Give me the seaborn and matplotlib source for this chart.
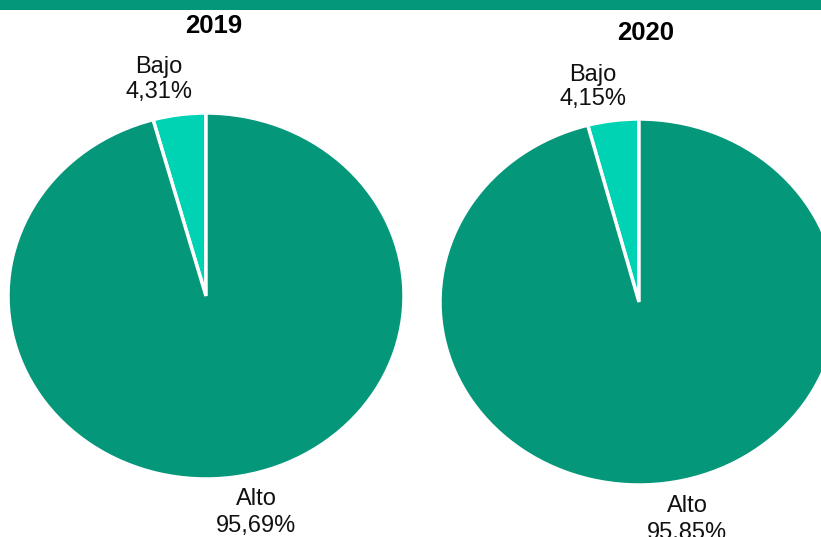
import matplotlib
matplotlib.use("Agg")
import matplotlib.pyplot as plt
import seaborn as sns

sns.set_theme(style="white")
plt.rcParams["font.family"] = ["Liberation Sans", "DejaVu Sans"]

# Data
years = ["2019", "2020"]
categories = ["Bajo", "Alto"]
shares_2019 = [4.31, 95.69]
shares_2020 = [4.15, 95.85]
colors = ["#00D3B4", "#049779"]

W, H = 821, 537
fig = plt.figure(figsize=(W / 100, H / 100), dpi=100)

# green banner at the top
fig.patches.append(plt.Rectangle((0, 1 - 10 / H), 1, 10 / H, transform=fig.transFigure,
                                 facecolor="#049779", edgecolor="none"))


def px_axes(cx, cy, rx, ry):
    return fig.add_axes([(cx - rx) / W, (H - cy - ry) / H, 2 * rx / W, 2 * ry / H])


def fmt(v):
    return f"{v:.2f}".replace(".", ",") + "%"


def put(x, y, s, **kw):
    fig.text(x / W, 1 - y / H, s, ha="center", va="baseline", **kw)


panels = [
    dict(year=years[0], vals=shares_2019, c=(206, 296), r=(198, 183),
         title=(214, 33), bajo=(159, 73, 98), alto=(256, 505, 532)),
    dict(year=years[1], vals=shares_2020, c=(639, 302), r=(199, 183),
         title=(646, 40), bajo=(593, 81, 105), alto=(687, 512, 539)),
]

LABEL_FS = 17
for p in panels:
    ax = px_axes(*p["c"], *p["r"])
    ax.pie(p["vals"], colors=colors, startangle=90, counterclock=True,
           wedgeprops=dict(edgecolor="white", linewidth=2.5))
    ax.set_aspect("auto")
    ax.set_xlim(-1, 1)
    ax.set_ylim(-1, 1)
    ax.axis("off")

    put(p["title"][0], p["title"][1], p["year"], fontsize=18.5,
        fontweight="bold", color="black")
    bx, by1, by2 = p["bajo"]
    put(bx, by1, categories[0], fontsize=LABEL_FS, color="#111111")
    put(bx, by2, fmt(p["vals"][0]), fontsize=LABEL_FS, color="#111111")
    ax_, ay1, ay2 = p["alto"]
    put(ax_, ay1, categories[1], fontsize=LABEL_FS, color="#111111")
    put(ax_, ay2, fmt(p["vals"][1]), fontsize=LABEL_FS, color="#111111")

fig.savefig("out.png", dpi=100)
